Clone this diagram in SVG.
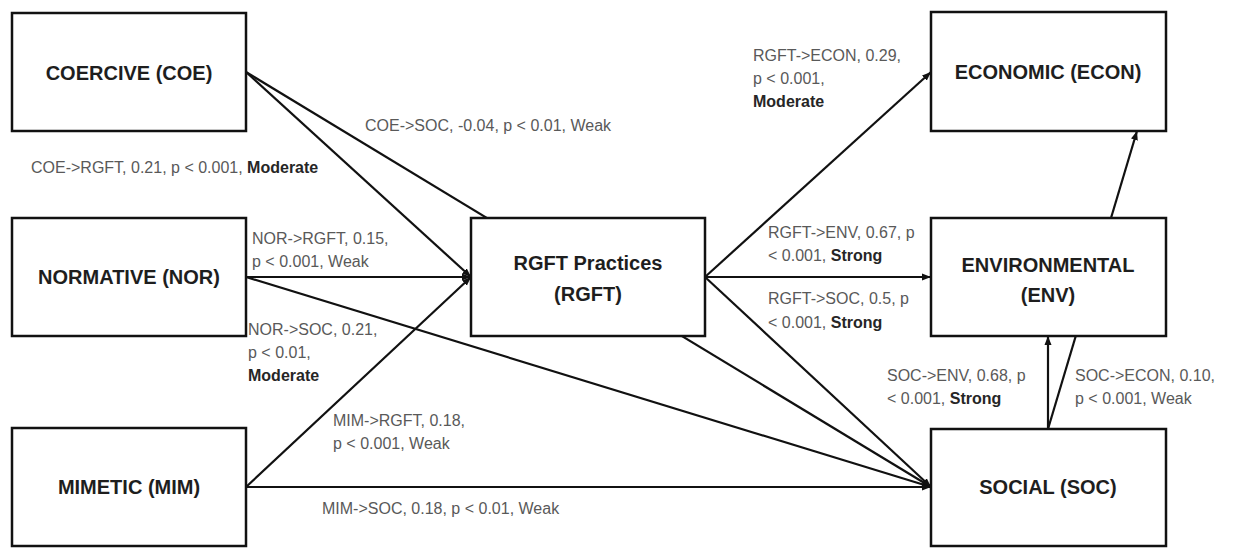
<svg xmlns="http://www.w3.org/2000/svg" width="1237" height="548" viewBox="0 0 1237 548">
<style>
.box{fill:#fff;stroke:#111;stroke-width:2.5}
.bt{font-family:"Liberation Sans",Arial,sans-serif;font-weight:bold;font-size:20px;fill:#1e1e1e;text-anchor:middle}
.lb{font-family:"Liberation Sans",Arial,sans-serif;font-size:16px;fill:#595959}
.lb .b{font-weight:bold;fill:#262626}
.cn{stroke:#111;stroke-width:2.2;fill:none;marker-end:url(#ah)}
</style>
<defs>
<marker id="ah" markerUnits="userSpaceOnUse" markerWidth="10" markerHeight="8" refX="9" refY="4" orient="auto">
<path d="M0,0.5 L9,4 L0,7.5 z" fill="#111"/>
</marker>
</defs>
<rect width="1237" height="548" fill="#fff"/>
<g id="connectors">
<line class="cn" x1="246" y1="72" x2="471" y2="277"/>
<line class="cn" x1="246" y1="72" x2="931" y2="487"/>
<line class="cn" x1="246" y1="277" x2="471" y2="277"/>
<line class="cn" x1="246" y1="277" x2="931" y2="487"/>
<line class="cn" x1="246" y1="487" x2="471" y2="277"/>
<line class="cn" x1="246" y1="487" x2="931" y2="487"/>
<line class="cn" x1="705" y1="277" x2="931" y2="72"/>
<line class="cn" x1="705" y1="277" x2="931" y2="277"/>
<line class="cn" x1="705" y1="277" x2="931" y2="487"/>
<line class="cn" x1="1048" y1="429" x2="1048" y2="336"/>
<line class="cn" x1="1048" y1="429" x2="1137" y2="131"/>
</g>
<g id="COE"><rect class="box" x="12" y="13" width="234" height="118"/><text class="bt" x="129" y="80">COERCIVE (COE)</text></g>
<g id="NOR"><rect class="box" x="12" y="218" width="234" height="118"/><text class="bt" x="129" y="284">NORMATIVE (NOR)</text></g>
<g id="MIM"><rect class="box" x="12" y="428" width="234" height="118"/><text class="bt" x="129" y="494">MIMETIC (MIM)</text></g>
<g id="RGFT"><rect class="box" x="471" y="218" width="234" height="118"/><text class="bt" x="588" y="270">RGFT Practices</text><text class="bt" x="588" y="301">(RGFT)</text></g>
<g id="ECON"><rect class="box" x="931" y="12" width="235" height="119"/><text class="bt" x="1048" y="79">ECONOMIC (ECON)</text></g>
<g id="ENV"><rect class="box" x="931" y="218" width="235" height="118"/><text class="bt" x="1048" y="272">ENVIRONMENTAL</text><text class="bt" x="1048" y="302">(ENV)</text></g>
<g id="SOC"><rect class="box" x="931" y="429" width="235" height="117"/><text class="bt" x="1048" y="494">SOCIAL (SOC)</text></g>
<g id="labels">
<text class="lb" x="31" y="173">COE-&gt;RGFT, 0.21, p &lt; 0.001, <tspan class="b">Moderate</tspan></text>
<text class="lb" x="365" y="131">COE-&gt;SOC, -0.04, p &lt; 0.01, Weak</text>
<text class="lb" x="252" y="244">NOR-&gt;RGFT, 0.15,</text>
<text class="lb" x="252" y="267">p &lt; 0.001, Weak</text>
<text class="lb" x="248" y="335">NOR-&gt;SOC, 0.21,</text>
<text class="lb" x="248" y="358">p &lt; 0.01,</text>
<text class="lb" x="248" y="381"><tspan class="b">Moderate</tspan></text>
<text class="lb" x="333" y="426">MIM-&gt;RGFT, 0.18,</text>
<text class="lb" x="333" y="449">p &lt; 0.001, Weak</text>
<text class="lb" x="322" y="514">MIM-&gt;SOC, 0.18, p &lt; 0.01, Weak</text>
<text class="lb" x="753" y="61">RGFT-&gt;ECON, 0.29,</text>
<text class="lb" x="753" y="84">p &lt; 0.001,</text>
<text class="lb" x="753" y="107"><tspan class="b">Moderate</tspan></text>
<text class="lb" x="768" y="238">RGFT-&gt;ENV, 0.67, p</text>
<text class="lb" x="768" y="261">&lt; 0.001, <tspan class="b">Strong</tspan></text>
<text class="lb" x="768" y="304">RGFT-&gt;SOC, 0.5, p</text>
<text class="lb" x="768" y="328">&lt; 0.001, <tspan class="b">Strong</tspan></text>
<text class="lb" x="887" y="381">SOC-&gt;ENV, 0.68, p</text>
<text class="lb" x="887" y="404">&lt; 0.001, <tspan class="b">Strong</tspan></text>
<text class="lb" x="1075" y="381">SOC-&gt;ECON, 0.10,</text>
<text class="lb" x="1075" y="404">p &lt; 0.001, Weak</text>
</g>
</svg>
